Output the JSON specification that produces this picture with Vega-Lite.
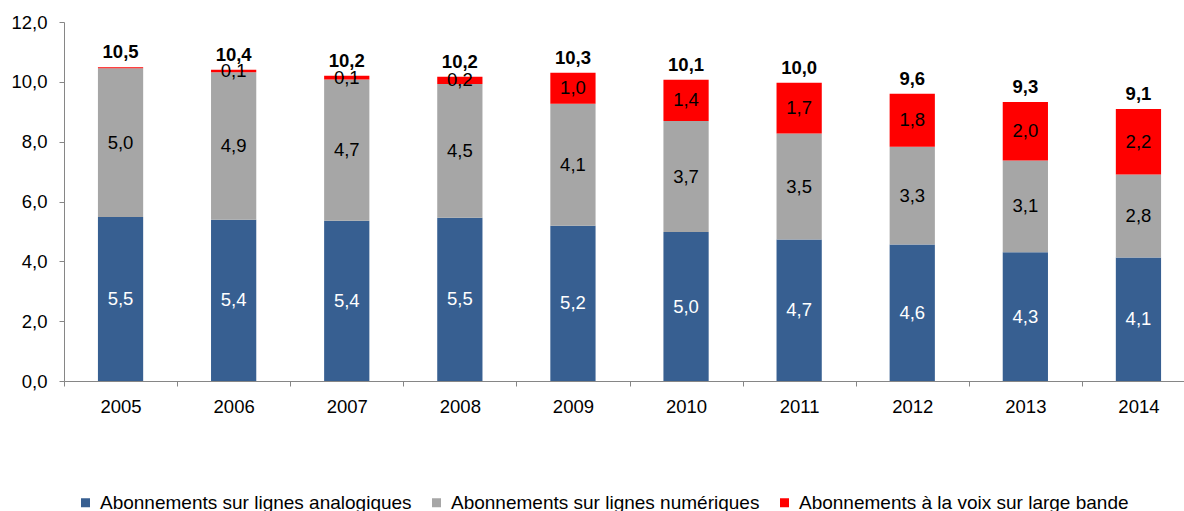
{
  "$schema": "https://vega.github.io/schema/vega-lite/v6.json",
  "width": 1120,
  "height": 359,
  "autosize": {"type": "none"},
  "padding": {"left": 64, "top": 22, "right": 0, "bottom": 130},
  "config": {
    "locale": {"number": {"decimal": ",", "thousands": " ", "grouping": [3], "currency": ["", " €"]}},
    "view": {"stroke": null},
    "font": "Liberation Sans",
    "axis": {"labelFont": "Liberation Sans", "labelFontSize": 18.5, "labelColor": "#000000", "domainColor": "#868686", "tickColor": "#868686", "tickSize": 5, "grid": false, "title": null}
  },
  "data": {
    "values": [
      {"year": "2005", "serie": "Abonnements sur lignes analogiques", "k": 1, "value": 5.48},
      {"year": "2005", "serie": "Abonnements sur lignes numériques", "k": 2, "value": 4.97},
      {"year": "2005", "serie": "Abonnements à la voix sur large bande", "k": 3, "value": 0.04},
      {"year": "2006", "serie": "Abonnements sur lignes analogiques", "k": 1, "value": 5.39},
      {"year": "2006", "serie": "Abonnements sur lignes numériques", "k": 2, "value": 4.93},
      {"year": "2006", "serie": "Abonnements à la voix sur large bande", "k": 3, "value": 0.08},
      {"year": "2007", "serie": "Abonnements sur lignes analogiques", "k": 1, "value": 5.36},
      {"year": "2007", "serie": "Abonnements sur lignes numériques", "k": 2, "value": 4.72},
      {"year": "2007", "serie": "Abonnements à la voix sur large bande", "k": 3, "value": 0.12},
      {"year": "2008", "serie": "Abonnements sur lignes analogiques", "k": 1, "value": 5.46},
      {"year": "2008", "serie": "Abonnements sur lignes numériques", "k": 2, "value": 4.47},
      {"year": "2008", "serie": "Abonnements à la voix sur large bande", "k": 3, "value": 0.24},
      {"year": "2009", "serie": "Abonnements sur lignes analogiques", "k": 1, "value": 5.19},
      {"year": "2009", "serie": "Abonnements sur lignes numériques", "k": 2, "value": 4.08},
      {"year": "2009", "serie": "Abonnements à la voix sur large bande", "k": 3, "value": 1.03},
      {"year": "2010", "serie": "Abonnements sur lignes analogiques", "k": 1, "value": 4.98},
      {"year": "2010", "serie": "Abonnements sur lignes numériques", "k": 2, "value": 3.71},
      {"year": "2010", "serie": "Abonnements à la voix sur large bande", "k": 3, "value": 1.38},
      {"year": "2011", "serie": "Abonnements sur lignes analogiques", "k": 1, "value": 4.73},
      {"year": "2011", "serie": "Abonnements sur lignes numériques", "k": 2, "value": 3.54},
      {"year": "2011", "serie": "Abonnements à la voix sur large bande", "k": 3, "value": 1.70},
      {"year": "2012", "serie": "Abonnements sur lignes analogiques", "k": 1, "value": 4.56},
      {"year": "2012", "serie": "Abonnements sur lignes numériques", "k": 2, "value": 3.27},
      {"year": "2012", "serie": "Abonnements à la voix sur large bande", "k": 3, "value": 1.77},
      {"year": "2013", "serie": "Abonnements sur lignes analogiques", "k": 1, "value": 4.30},
      {"year": "2013", "serie": "Abonnements sur lignes numériques", "k": 2, "value": 3.07},
      {"year": "2013", "serie": "Abonnements à la voix sur large bande", "k": 3, "value": 1.96},
      {"year": "2014", "serie": "Abonnements sur lignes analogiques", "k": 1, "value": 4.13},
      {"year": "2014", "serie": "Abonnements sur lignes numériques", "k": 2, "value": 2.77},
      {"year": "2014", "serie": "Abonnements à la voix sur large bande", "k": 3, "value": 2.19}
    ]
  },
  "encoding": {
    "x": {
      "field": "year", "type": "ordinal",
      "scale": {"paddingInner": 0, "paddingOuter": 0, "range": [0, 1131]},
      "axis": {"labelAngle": 0, "tickBand": "extent", "labelPadding": 11}
    }
  },
  "layer": [
    {
      "mark": {"type": "bar", "width": {"band": 0.4}},
      "encoding": {
        "y": {
          "aggregate": "sum", "field": "value", "type": "quantitative", "stack": "zero",
          "scale": {"domain": [0, 12], "nice": false},
          "axis": {"values": [0, 2, 4, 6, 8, 10, 12], "format": ".1f", "labelPadding": 12}
        },
        "color": {
          "field": "serie", "type": "nominal",
          "scale": {
            "domain": ["Abonnements sur lignes analogiques", "Abonnements sur lignes numériques", "Abonnements à la voix sur large bande"],
            "range": ["#375F91", "#A6A6A6", "#FF0000"]
          },
          "legend": {
            "title": null, "orient": "none", "direction": "horizontal",
            "legendX": 12, "legendY": 471, "padding": 0,
            "symbolType": "square", "symbolSize": 81, "symbolStrokeWidth": 0,
            "labelFont": "Liberation Sans", "labelFontSize": 19, "labelColor": "#000000",
            "labelOffset": 5, "columnPadding": 15, "labelLimit": 500
          }
        },
        "order": {"field": "k", "type": "quantitative"}
      }
    },
    {
      "transform": [{"filter": "datum.value >= 0.05"}],
      "mark": {"type": "text", "baseline": "middle", "align": "center", "fontSize": 18.5, "font": "Liberation Sans"},
      "encoding": {
        "y": {"aggregate": "sum", "field": "value", "type": "quantitative", "stack": "zero", "bandPosition": 0.5},
        "detail": {"field": "serie"},
        "order": {"field": "k", "type": "quantitative"},
        "text": {"aggregate": "sum", "field": "value", "type": "quantitative", "format": ".1f"},
        "color": {"condition": {"test": "datum.k == 1", "value": "#FFFFFF"}, "value": "#000000"}
      }
    },
    {
      "mark": {"type": "text", "baseline": "middle", "align": "center", "fontSize": 18.5, "fontWeight": "bold", "font": "Liberation Sans", "dy": -15, "color": "#000000"},
      "encoding": {
        "y": {"aggregate": "sum", "field": "value", "type": "quantitative", "stack": null},
        "text": {"aggregate": "sum", "field": "value", "type": "quantitative", "format": ".1f"}
      }
    }
  ]
}
